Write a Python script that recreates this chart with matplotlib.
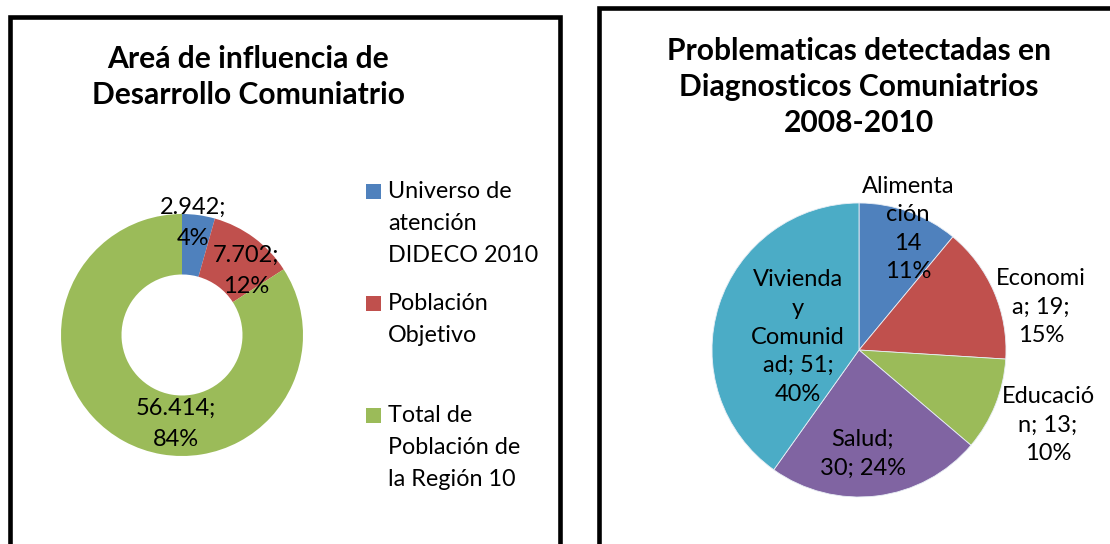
import matplotlib
matplotlib.use("Agg")
import matplotlib.pyplot as plt
from matplotlib.patches import Rectangle

# ---------------- data ----------------
donut_title = "Areá de influencia de\nDesarrollo Comuniatrio"
donut_labels = ["Universo de\natención\nDIDECO 2010", "Población\nObjetivo",
                "Total de\nPoblación de\nla Región 10"]
donut_values = [2942, 7702, 56414]
donut_texts = ["2.942;\n4%", "7.702;\n12%", "56.414;\n84%"]

pie_title = "Problematicas detectadas en\nDiagnosticos Comuniatrios\n2008-2010"
pie_categories = ["Alimentación", "Economia", "Educación", "Salud", "Vivienda y Comunidad"]
pie_values = [14, 19, 13, 30, 51]
pie_texts = ["Alimenta\nción\n14\n11%", "Economi\na; 19;\n15%", "Educació\nn; 13;\n10%",
             "Salud;\n30; 24%", "Vivienda\ny\nComunid\nad; 51;\n40%"]

donut_colors = ["#4F81BD", "#C0504D", "#9BBB59"]
pie_colors = ["#4F81BD", "#C0504D", "#9BBB59", "#8064A2", "#4BACC6"]

# ---------------- figure ----------------
W, H = 1110, 544
fig = plt.figure(figsize=(W / 100, H / 100), dpi=100)
FONT = "Lato"
plt.rcParams["font.family"] = [FONT, "DejaVu Sans"]


def fx(x):
    return x / W


def fy(y):
    return 1 - y / H


def axes_px(left, top, w, h):
    return fig.add_axes([fx(left), fy(top + h), w / W, h / H])


# panel frames
lw_pt = 4.6 * 72 / 100
fig.add_artist(Rectangle((fx(10), fy(600)), (560 - 10) / W, (600 - 17) / H,
                         transform=fig.transFigure, fill=False, ec="black", lw=lw_pt))
fig.add_artist(Rectangle((fx(599), fy(600)), (1200 - 599) / W, (600 - 7.5) / H,
                         transform=fig.transFigure, fill=False, ec="black", lw=lw_pt))

# titles
fig.text(fx(248), fy(77), donut_title, ha="center", va="center", fontsize=21.6,
         fontweight="bold", linespacing=1.33)
fig.text(fx(859), fy(87), pie_title, ha="center", va="center", fontsize=21.6,
         fontweight="bold", linespacing=1.36)

# ---------------- donut ----------------
cx, cy, r = 182, 335, 121
axd = axes_px(cx - r, cy - r, 2 * r, 2 * r)
axd.pie(donut_values, colors=donut_colors, startangle=90, counterclock=False,
        radius=1.0, wedgeprops=dict(width=0.5, edgecolor="none"))
axd.set_xlim(-1, 1)
axd.set_ylim(-1, 1)
axd.set_aspect("equal")
axd.axis("off")

donut_text_pos = [(193, 223), (246, 271), (176, 424)]
for t, (px, py) in zip(donut_texts, donut_text_pos):
    fig.text(fx(px), fy(py), t, ha="center", va="center", fontsize=17, linespacing=1.6)

# legend
leg_y = [191, 303, 415]
for lab, col, y in zip(donut_labels, donut_colors, leg_y):
    n = lab.count("\n")
    fig.add_artist(Rectangle((fx(366), fy(y + 8)), 15 / W, 15 / H,
                             transform=fig.transFigure, fc=col, ec="none"))
    fig.text(fx(388), fy(y + n * 32.5 / 2), lab, ha="left", va="center", fontsize=16.8,
             linespacing=1.64)

# ---------------- pie ----------------
cx, cy, r = 859, 350, 147
axp = axes_px(cx - r, cy - r, 2 * r, 2 * r)
axp.pie(pie_values, colors=pie_colors, startangle=90, counterclock=False, radius=1.0,
        wedgeprops=dict(edgecolor="#e8eef5", linewidth=0.6))
axp.set_xlim(-1, 1)
axp.set_ylim(-1, 1)
axp.set_aspect("equal")
axp.axis("off")

pie_text_pos = [(908, 229), (1041, 307), (1048, 425), (863, 454), (798, 337)]
for t, (px, py) in zip(pie_texts, pie_text_pos):
    fig.text(fx(px), fy(py), t, ha="center", va="center", fontsize=17, linespacing=1.45)

fig.savefig("out.png", dpi=100)
